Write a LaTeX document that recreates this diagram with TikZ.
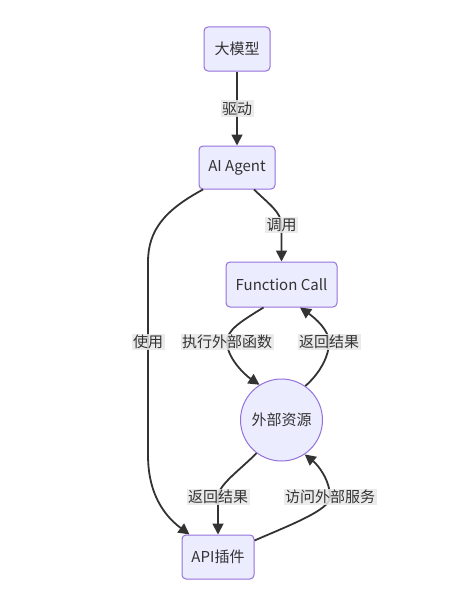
\documentclass[tikz,border=0pt]{standalone}
\usepackage{fontspec}
\setmainfont{Noto Sans CJK SC}
\usetikzlibrary{arrows.meta}
\definecolor{nodefill}{HTML}{ECECFF}
\definecolor{nodeline}{HTML}{9370DB}
\definecolor{edgecol}{HTML}{333333}
\definecolor{lblbg}{HTML}{E8E8E8}
\tikzset{
  box/.style={draw=nodeline, fill=nodefill, line width=1pt, rounded corners=4pt, font=\fontsize{15}{17}\selectfont, text=edgecol, inner sep=0pt},
  circ/.style={draw=nodeline, fill=nodefill, line width=1pt, circle, minimum size=82pt, font=\fontsize{15}{17}\selectfont, text=edgecol, inner sep=0pt},
  edge/.style={draw=edgecol, line width=1.8pt, -{Triangle[length=11pt,width=11pt]}},
  lbl/.style={fill=lblbg, fill opacity=0.85, text opacity=1, text=edgecol, font=\fontsize{15}{17}\selectfont, inner sep=1.5pt}
}
\begin{document}
\begin{tikzpicture}[x=1pt,y=-1pt]
\useasboundingbox (0,0) rectangle (474,594);
\node[box, minimum width=66pt, minimum height=44pt] (lm) at (237,49) {大模型};
\node[box, minimum width=76pt, minimum height=43pt] (ag) at (237,167.5) {AI Agent};
\node[box, minimum width=111pt, minimum height=45pt] (fc) at (281.5,284.5) {Function Call};
\node[circ] (er) at (281.5,420) {外部资源};
\node[box, minimum width=72pt, minimum height=44pt] (api) at (218,557) {API插件};

\draw[edge] (lm) -- node[lbl] {驱动} (ag);
\draw[edge] ([xshift=17pt]ag.south) .. controls (270,205) and (281,212) .. (281.5,225) node[lbl] {调用} -- (fc.north);
\draw[edge] ([xshift=-34pt]ag.south) .. controls (165,210) and (148,230) .. (148,262) -- (148,342) node[lbl] {使用} -- (148,455) .. controls (148,500) and (170,520) .. ([xshift=8pt]api.north west);
\draw[edge] ([xshift=-18pt]fc.south) .. controls (240,322) and (227,330) .. (227,342) node[lbl] {执行外部函数} .. controls (227,358) and (245,375) .. (er.122);
\draw[edge] (er.55) .. controls (318,375) and (329,358) .. (329,342) node[lbl] {返回结果} .. controls (329,330) and (315,318) .. ([xshift=18.5pt]fc.south);
\draw[edge] (er.233) .. controls (240,470) and (218,485) .. (218,497) node[lbl] {返回结果} -- (api.north);
\draw[edge] ([yshift=-6pt]api.north east) .. controls (290,525) and (330,510) .. (330,497) node[lbl] {访问外部服务} .. controls (330,480) and (318,465) .. (er.304);
\end{tikzpicture}
\end{document}
